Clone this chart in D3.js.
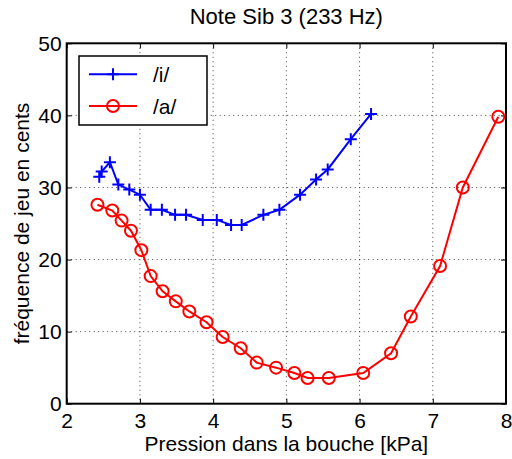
<!DOCTYPE html>
<meta charset="utf-8">
<script src="https://cdn.jsdelivr.net/npm/d3@7"></script>
<style>
body { margin: 0; background: #fff; }
text { font-family: "Liberation Sans", Arial, sans-serif; fill: #000; }
</style>
<body>
<script>

// data
var i_pression = [2.445, 2.478, 2.59, 2.705, 2.855, 3.0, 3.147, 3.30, 3.48, 3.63, 3.858, 4.05, 4.245, 4.39, 4.686, 4.905, 5.187, 5.406, 5.565, 5.88, 6.157]
var i_cents    = [31.5, 32.2, 33.5, 30.4, 29.7, 29.0, 26.9, 26.9, 26.2, 26.2, 25.5, 25.5, 24.8, 24.8, 26.2, 26.9, 29.0, 31.1, 32.5, 36.7, 40.2]

var a_pression = [2.42, 2.623, 2.75, 2.878, 3.02, 3.147, 3.31, 3.49, 3.675, 3.91, 4.13, 4.377, 4.595, 4.86, 5.11, 5.29, 5.58, 6.05, 6.43, 6.70, 7.10, 7.41, 7.895]
var a_cents    = [27.6, 26.8, 25.4, 24.0, 21.3, 17.7, 15.6, 14.2, 12.8, 11.3, 9.25, 7.7, 5.7, 5.0, 4.25, 3.56, 3.56, 4.25, 7.0, 12.1, 19.1, 30.0, 39.8]

var x_ticks = [2, 3, 4, 5, 6, 7, 8]
var y_ticks = [0, 10, 20, 30, 40, 50]

var width = 512, height = 459
var mLeft = 66.7, mRight = 506, mTop = 43.3, mBottom = 403.7

var svg = d3.select("body").append("svg")
            .attr("width", width)
            .attr("height", height)

var x = d3.scaleLinear().domain([2, 8]).range([mLeft, mRight])
var y = d3.scaleLinear().domain([0, 50]).range([mBottom, mTop])

// grid
var grid = svg.append("g")
x_ticks.slice(1, -1).forEach(function(t) {
  grid.append("line").attr("x1", x(t)).attr("x2", x(t)).attr("y1", mTop).attr("y2", mBottom)
      .attr("stroke", "#444").attr("stroke-dasharray", "1 3.5")
})
y_ticks.slice(1, -1).forEach(function(t) {
  grid.append("line").attr("x1", mLeft).attr("x2", mRight).attr("y1", y(t)).attr("y2", y(t))
      .attr("stroke", "#444").attr("stroke-dasharray", "1 3.5")
})

// axes (ticks inside)
var fs = "21px"
svg.append("g").attr("transform", "translate(0," + mBottom + ")")
   .call(d3.axisBottom(x).tickValues(x_ticks).tickSize(-5).tickPadding(9).tickFormat(d3.format("d")))
   .call(g => g.select(".domain").remove())
   .call(g => g.selectAll("text").style("font-size", fs).attr("font-family", null))
svg.append("g").attr("transform", "translate(0," + mTop + ")")
   .call(d3.axisTop(x).tickValues(x_ticks).tickSize(-5).tickFormat(""))
   .call(g => g.select(".domain").remove())
svg.append("g").attr("transform", "translate(" + mLeft + ",0)")
   .call(d3.axisLeft(y).tickValues(y_ticks).tickSize(-5).tickPadding(5).tickFormat(d3.format("d")))
   .call(g => g.select(".domain").remove())
   .call(g => g.selectAll("text").style("font-size", fs).attr("font-family", null))
svg.append("g").attr("transform", "translate(" + mRight + ",0)")
   .call(d3.axisRight(y).tickValues(y_ticks).tickSize(-5).tickFormat(""))
   .call(g => g.select(".domain").remove())

svg.append("rect").attr("x", mLeft).attr("y", mTop).attr("width", mRight - mLeft).attr("height", mBottom - mTop)
   .attr("fill", "none").attr("stroke", "#000").attr("stroke-width", 2)

var line = d3.line().x(d => x(d[0])).y(d => y(d[1]))

var i_data = i_pression.map((p, k) => [p, i_cents[k]])
var a_data = a_pression.map((p, k) => [p, a_cents[k]])

function plus(g, px, py, col) {
  g.append("path").attr("d", "M" + (px - 6) + "," + py + "H" + (px + 6) + "M" + px + "," + (py - 6) + "V" + (py + 6))
   .attr("stroke", col).attr("stroke-width", 2).attr("fill", "none")
}
function circ(g, px, py, col) {
  g.append("circle").attr("cx", px).attr("cy", py).attr("r", 6)
   .attr("stroke", col).attr("stroke-width", 2).attr("fill", "none")
}

svg.append("path").attr("d", line(i_data)).attr("stroke", "#0000ff").attr("stroke-width", 2).attr("fill", "none")
var gi = svg.append("g")
i_data.forEach(d => plus(gi, x(d[0]), y(d[1]), "#0000ff"))

svg.append("path").attr("d", line(a_data)).attr("stroke", "#ff0000").attr("stroke-width", 2).attr("fill", "none")
var ga = svg.append("g")
a_data.forEach(d => circ(ga, x(d[0]), y(d[1]), "#ff0000"))

// legend
var lg = svg.append("g")
lg.append("rect").attr("x", 79).attr("y", 56).attr("width", 128).attr("height", 69)
  .attr("fill", "#fff").attr("stroke", "#000").attr("stroke-width", 1.5)
lg.append("line").attr("x1", 89).attr("x2", 137).attr("y1", 74.3).attr("y2", 74.3).attr("stroke", "#0000ff").attr("stroke-width", 2)
plus(lg, 113, 74.3, "#0000ff")
lg.append("line").attr("x1", 89).attr("x2", 137).attr("y1", 106).attr("y2", 106).attr("stroke", "#ff0000").attr("stroke-width", 2)
circ(lg, 113, 106, "#ff0000")
lg.append("text").attr("x", 153).attr("y", 82).style("font-size", fs).text("/i/")
lg.append("text").attr("x", 153).attr("y", 114).style("font-size", fs).text("/a/")

// titles
svg.append("text").attr("x", (mLeft + mRight) / 2).attr("y", 24).attr("text-anchor", "middle")
   .style("font-size", "22px").text("Note Sib 3 (233 Hz)")
svg.append("text").attr("x", (mLeft + mRight) / 2).attr("y", 451).attr("text-anchor", "middle")
   .style("font-size", "21px").text("Pression dans la bouche [kPa]")
svg.append("text").attr("transform", "translate(29," + (mTop + mBottom) / 2 + ") rotate(-90)")
   .attr("text-anchor", "middle").style("font-size", "21px").text("fréquence de jeu en cents")

</script>
</body>
